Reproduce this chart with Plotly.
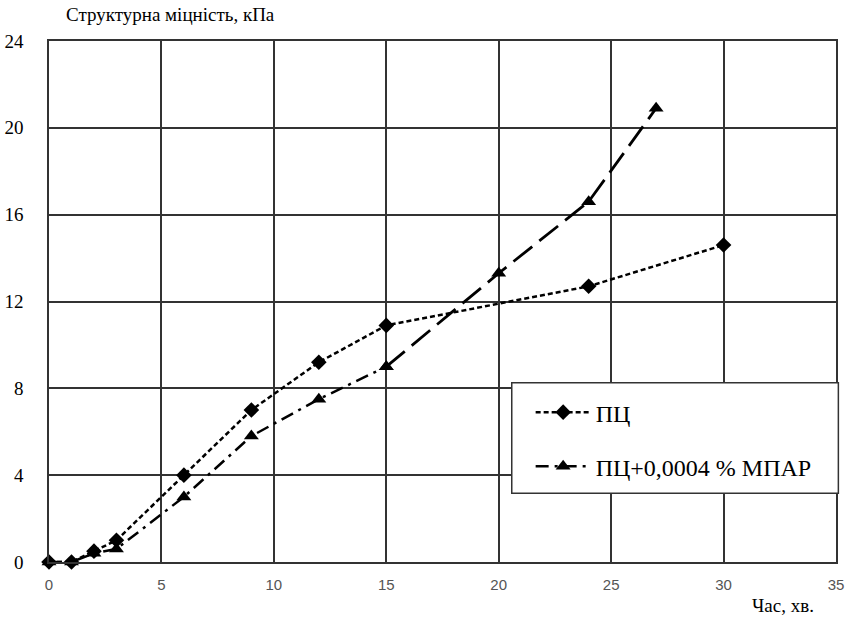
import plotly.graph_objects as go

# Data
t_pc = [0, 1, 2, 3, 6, 9, 12, 15, 24, 30]
s_pc = [0, 0, 0.5, 1.0, 4.0, 7.0, 9.2, 10.9, 12.7, 14.6]

t_mp = [0, 1, 2, 3, 6, 9, 12, 15, 20, 24, 27]
s_mp = [0, 0, 0.4, 0.6, 3.0, 5.8, 7.5, 9.0, 13.3, 16.6, 20.9]

name_pc = "ПЦ"
name_mp = "ПЦ+0,0004 % МПАР"

x_ticks = [0, 5, 10, 15, 20, 25, 30, 35]
y_ticks = [0, 4, 8, 12, 16, 20, 24]

split = 7  # index of x=15 where the dash pattern changes

serif = "serif"
sans = "Liberation Sans"

fig = go.Figure()
fig.add_trace(go.Scatter(
    x=t_pc, y=s_pc, name=name_pc, mode="lines+markers",
    line=dict(color="black", width=2.5, dash="5px,3px"),
    marker=dict(symbol="diamond", size=12, color="black"),
    cliponaxis=False, legendgroup="a"))
fig.add_trace(go.Scatter(
    x=t_mp[:split + 1], y=s_mp[:split + 1], name=name_mp, mode="lines+markers",
    line=dict(color="black", width=2.5, dash="13px,6px,3px,6px"),
    marker=dict(symbol="triangle-up", size=13, color="black"),
    cliponaxis=False, legendgroup="b"))
fig.add_trace(go.Scatter(
    x=t_mp[split:], y=s_mp[split:], name=name_mp, mode="lines+markers",
    line=dict(color="black", width=2.8, dash="24px,9px"),
    marker=dict(symbol="triangle-up", size=13, color="black"),
    cliponaxis=False, showlegend=False, legendgroup="b"))

fig.update_layout(
    width=852, height=625,
    margin=dict(l=49, r=16, t=41, b=63),
    paper_bgcolor="white", plot_bgcolor="white",
    showlegend=True,
    legend=dict(x=0.612, y=0.33, xanchor="left", yanchor="top",
                bgcolor="rgba(0,0,0,0)", borderwidth=0, itemwidth=55,
                font=dict(family=serif, size=24, color="black"),
                tracegroupgap=20, traceorder="grouped"),
    shapes=[dict(type="rect", xref="paper", yref="paper",
                 x0=0.588, x1=1.003, y0=0.132, y1=0.344,
                 line=dict(color="#333", width=1.5), fillcolor="white",
                 layer="above")],
    annotations=[
        dict(text="Структурна міцність, кПа", xref="paper", yref="paper",
             x=0.154, y=1.05, xanchor="center", yanchor="middle",
             showarrow=False, font=dict(family=serif, size=19, color="black")),
        dict(text="Час, хв.", xref="paper", yref="paper",
             x=0.933, y=-0.083, xanchor="center", yanchor="middle",
             showarrow=False, font=dict(family=serif, size=19, color="black")),
    ],
)
fig.update_xaxes(range=[0, 35], tickvals=x_ticks, showgrid=True,
                 gridcolor="#333", gridwidth=1.5, zeroline=False,
                 showline=True, linecolor="#333", linewidth=1.5, mirror=True,
                 ticks="", ticklabelstandoff=8, automargin=False,
                 tickfont=dict(family=sans, size=15, color="#555"))
fig.update_yaxes(range=[0, 24], tickvals=y_ticks, showgrid=True,
                 gridcolor="#333", gridwidth=1.5, zeroline=False,
                 showline=True, linecolor="#333", linewidth=1.5, mirror=True,
                 ticks="", ticklabelstandoff=20, automargin=False,
                 tickfont=dict(family=serif, size=19, color="black"))

fig.write_html("out.html", config={"displayModeBar": False},
               post_script="document.body.style.margin='0';document.body.style.padding='0';")
